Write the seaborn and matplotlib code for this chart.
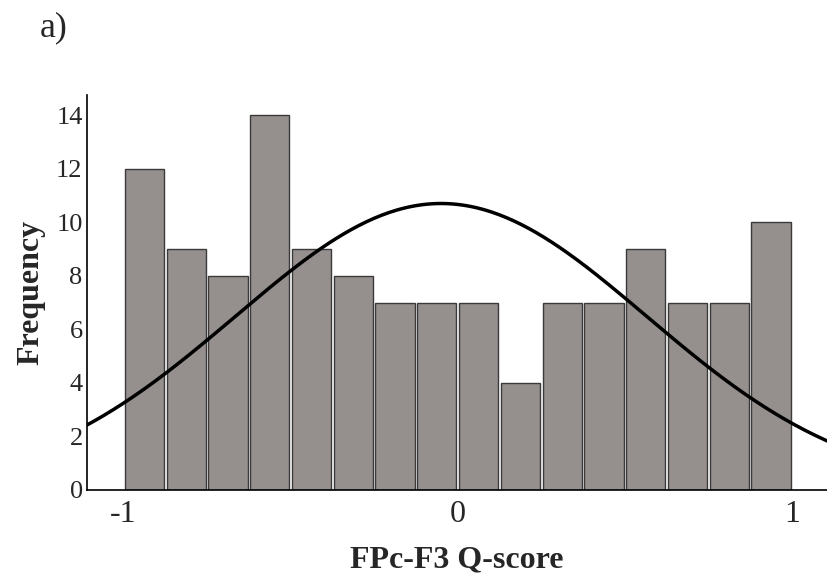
import numpy as np
import pandas as pd
import seaborn as sns
import matplotlib.pyplot as plt

# Frecuencias por intervalo (16 intervalos de -1 a 1)
bin_width = 0.125
bin_centers = np.arange(-1 + bin_width / 2, 1, bin_width)
counts = [12, 9, 8, 14, 9, 8, 7, 7, 7, 4, 7, 7, 9, 7, 7, 10]

# Curva normal ajustada
fit_mean = -0.05
fit_sd = 0.615

df = pd.DataFrame({'score': bin_centers, 'n': counts})

sns.set_style('white')
plt.rcParams['font.family'] = ['Liberation Serif', 'DejaVu Serif']

fig = plt.figure(figsize=(8.27, 5.84), dpi=100)
ax = fig.add_axes([0.105, 0.161, 0.895, 0.676])

sns.histplot(data=df, x='score', weights='n', binwidth=bin_width, binrange=(-1, 1),
             shrink=0.94, color='#958f8e', edgecolor='#3a3a3a', linewidth=1,
             alpha=1, ax=ax)

xs = np.linspace(-1.12, 1.12, 300)
ys = sum(counts) * bin_width / (fit_sd * np.sqrt(2 * np.pi)) * np.exp(-(xs - fit_mean) ** 2 / (2 * fit_sd ** 2))
sns.lineplot(x=xs, y=ys, color='black', linewidth=2.5, ax=ax)

ax.set_xlim(-1.11, 1.105)
ax.set_ylim(0, 14.75)
ax.set_xticks([-1, 0, 1])
ax.set_xticklabels(['-1', '0', '1'], fontsize=23)
ax.set_yticks(range(0, 15, 2))
ax.tick_params(axis='y', labelsize=19, length=0, pad=3)
ax.tick_params(axis='x', length=0, pad=7)
ax.set_xlabel('FPc-F3 Q-score', fontsize=23, fontweight='bold', labelpad=12)
ax.set_ylabel('Frequency', fontsize=23, fontweight='bold', labelpad=8)
for s in ['top', 'right']:
    ax.spines[s].set_visible(False)
for s in ['left', 'bottom']:
    ax.spines[s].set_color('black')
    ax.spines[s].set_linewidth(1.2)

fig.text(0.048, 0.937, 'a)', fontsize=26)

fig.savefig('out.png', dpi=100)
